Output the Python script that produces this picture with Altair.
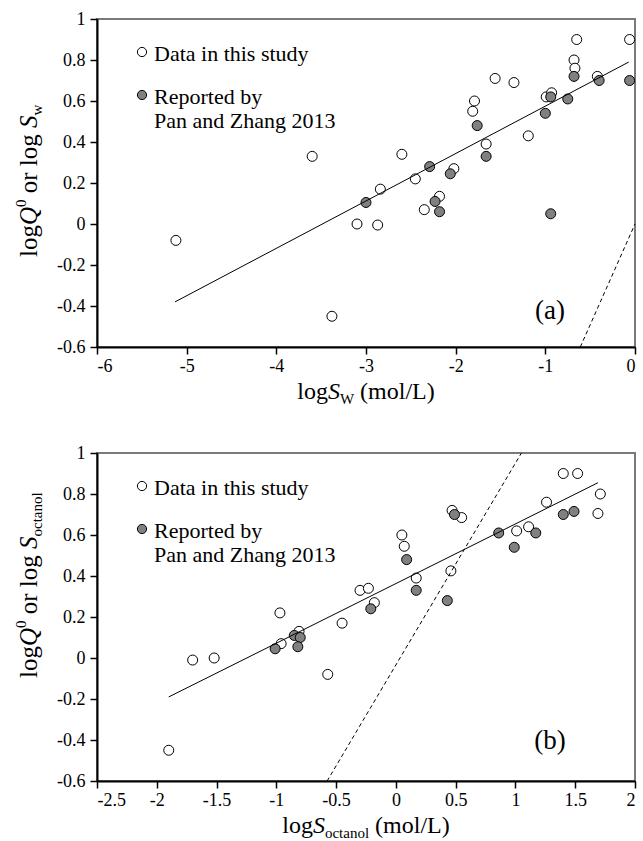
import altair as alt
import pandas as pd

# ---------------- data ----------------
# Panel (a): x = log S_W, y = log Q0
A_OPEN_X = [-5.12, -3.60, -3.38, -3.10, -2.87, -2.84, -2.60, -2.45, -2.35, -2.18, -2.02, -1.81,
            -1.79, -1.66, -1.56, -1.35, -1.19, -0.99, -0.93, -0.68, -0.67, -0.65, -0.42, -0.06]
A_OPEN_Y = [-0.08, 0.33, -0.45, 0.00, -0.005, 0.17, 0.34, 0.22, 0.07, 0.135, 0.27, 0.55,
            0.60, 0.39, 0.71, 0.69, 0.43, 0.62, 0.64, 0.80, 0.76, 0.90, 0.72, 0.90]
A_FILL_X = [-3.00, -2.29, -2.23, -2.18, -2.06, -1.76, -1.66, -1.00, -0.94, -0.94, -0.75, -0.68, -0.40, -0.06]
A_FILL_Y = [0.105, 0.28, 0.11, 0.06, 0.245, 0.48, 0.33, 0.54, 0.62, 0.05, 0.61, 0.72, 0.70, 0.70]
A_FIT_X = [-5.13, -0.07]
A_FIT_Y = [-0.38, 0.79]
A_REF_X = [-0.61, 0.0]
A_REF_Y = [-0.60, 0.0]

# Panel (b): x = log S_octanol, y = log Q0
B_OPEN_X = [-1.90, -1.70, -1.52, -0.97, -0.96, -0.81, -0.57, -0.45, -0.30, -0.23, -0.18, 0.05,
            0.07, 0.17, 0.46, 0.47, 0.55, 1.01, 1.11, 1.26, 1.40, 1.52, 1.69, 1.71]
B_OPEN_Y = [-0.45, -0.01, 0.00, 0.22, 0.07, 0.13, -0.08, 0.17, 0.33, 0.34, 0.27, 0.60,
            0.545, 0.39, 0.425, 0.72, 0.685, 0.62, 0.64, 0.76, 0.90, 0.90, 0.705, 0.80]
B_FILL_X = [-1.01, -0.85, -0.80, -0.82, -0.21, 0.09, 0.17, 0.43, 0.49, 0.86, 0.99, 1.17, 1.40, 1.49]
B_FILL_Y = [0.045, 0.11, 0.10, 0.055, 0.24, 0.48, 0.33, 0.28, 0.70, 0.61, 0.54, 0.61, 0.70, 0.715]
B_FIT_X = [-1.90, 1.69]
B_FIT_Y = [-0.19, 0.855]
B_REF_X = [-0.575, 1.05]
B_REF_Y = [-0.60, 1.00]

A_X_TICKS = [-6, -5, -4, -3, -2, -1, 0]
B_X_TICKS = [-2.5, -2, -1.5, -1, -0.5, 0, 0.5, 1, 1.5, 2]
Y_TICKS = [-0.6, -0.4, -0.2, 0, 0.2, 0.4, 0.6, 0.8, 1]

LEGEND_LABELS = ["Data in this study", "Reported by", "Pan and Zhang 2013"]

# ---------------- styling ----------------
SERIF = "Liberation Serif"
W, H = 538, 328
GRAY = "#808080"

W_REG = {' ': 250, '(': 333, ')': 333, '/': 278, '-': 333, '.': 250, '0': 500, 'L': 611,
         'S': 556, 'W': 944, 'Q': 722, 'a': 444, 'c': 444, 'd': 500, 'g': 500, 'l': 278,
         'm': 778, 'n': 500, 'o': 500, 'r': 333, 't': 278, 'w': 722}
W_IT = {'S': 500, 'Q': 722, 'W': 833, 'w': 667}

one = pd.DataFrame({"k": [0]})


def text_width(t, size, style):
    tbl = W_IT if style == "italic" else W_REG
    return sum(tbl.get(c, W_REG.get(c, 500)) for c in t) * size / 1000.0


def rich(pieces, x, y, angle=0, center=False):
    widths = [text_width(t, s, st) for t, s, st, _ in pieces]
    off = -sum(widths) / 2 if center else 0
    layers = []
    for (t, s, st, shift), w in zip(pieces, widths):
        lead = text_width(t[: len(t) - len(t.lstrip())], s, "normal")
        props = dict(text=t.strip(), align="left", baseline="alphabetic", dx=off + lead,
                     dy=shift, font=SERIF, fontSize=s, fontStyle=st, color="black")
        if angle:
            props["angle"] = angle
        layers.append(alt.Chart(one).mark_text(**props).encode(x=alt.value(x), y=alt.value(y)))
        off += w
    return layers


def panel(ox, oy, fx, fy, fitx, fity, refx, refy, xticks, xdom, xsub, ysub, tag, ystart, tagy):
    xs = alt.Scale(domain=xdom, nice=False, zero=False)
    ys = alt.Scale(domain=[-0.6, 1], nice=False, zero=False)
    xax = alt.Axis(values=xticks, title=None, labelExpr="'' + datum.value", grid=False,
                   tickSize=7, labelPadding=3)
    yax = alt.Axis(values=Y_TICKS, title=None, labelExpr="'' + datum.value", grid=False,
                   tickSize=7, labelPadding=5)

    open_df = pd.DataFrame({"x": ox, "y": oy})
    fill_df = pd.DataFrame({"x": fx, "y": fy})
    fit_df = pd.DataFrame({"x": fitx, "y": fity})
    ref_df = pd.DataFrame({"x": refx, "y": refy})

    base_enc = dict(x=alt.X("x:Q", scale=xs, axis=xax), y=alt.Y("y:Q", scale=ys, axis=yax))

    open_pts = alt.Chart(open_df).mark_point(shape="circle", filled=True, fill="white",
                                             stroke="black", strokeWidth=1, size=100,
                                             opacity=1).encode(**base_enc)
    fill_pts = alt.Chart(fill_df).mark_point(shape="circle", filled=True, fill=GRAY,
                                             stroke="black", strokeWidth=1, size=100,
                                             opacity=1).encode(x="x:Q", y="y:Q")
    fit = alt.Chart(fit_df).mark_line(color="black", strokeWidth=1).encode(x="x:Q", y="y:Q")
    ref = alt.Chart(ref_df).mark_line(color="black", strokeWidth=1,
                                      strokeDash=[4, 3]).encode(x="x:Q", y="y:Q")

    # legend
    leg = [
        alt.Chart(one).mark_point(shape="circle", filled=True, fill="white", stroke="black",
                                  strokeWidth=1, size=85, opacity=1)
        .encode(x=alt.value(45), y=alt.value(33)),
        alt.Chart(one).mark_point(shape="circle", filled=True, fill=GRAY, stroke="black",
                                  strokeWidth=1, size=85, opacity=1)
        .encode(x=alt.value(45), y=alt.value(76)),
    ]
    for lab, yy in zip(LEGEND_LABELS, [42, 84.5, 109]):
        leg.append(alt.Chart(one).mark_text(text=lab, align="left", baseline="alphabetic",
                                            font=SERIF, fontSize=22, color="black")
                   .encode(x=alt.value(57), y=alt.value(yy)))

    tag_t = alt.Chart(one).mark_text(text=tag, align="center", baseline="alphabetic",
                                     font=SERIF, fontSize=27, color="black").encode(
        x=alt.value(453), y=alt.value(tagy))

    xtitle = rich([("log", 24, "normal", 0), ("S", 24, "italic", 0), (xsub, 15, "normal", 5),
                   (" (mol/L)", 24, "normal", 0)], W / 2, 380, center=True)
    ytitle = rich([("log", 25, "normal", 0), ("Q", 25, "italic", 0), ("0", 15, "normal", -11),
                   (" or log ", 25, "normal", 0), ("S", 25, "italic", 0), (ysub, 15, "normal", 5)],
                  -60, ystart, angle=270)

    return alt.layer(open_pts, fill_pts, fit, ref, *leg, tag_t, *xtitle, *ytitle).properties(
        width=W, height=H)


top = panel(A_OPEN_X, A_OPEN_Y, A_FILL_X, A_FILL_Y, A_FIT_X, A_FIT_Y, A_REF_X, A_REF_Y,
            A_X_TICKS, [-6, 0], "W", "w", "(a)", 238, 300)
bottom = panel(B_OPEN_X, B_OPEN_Y, B_FILL_X, B_FILL_Y, B_FIT_X, B_FIT_Y, B_REF_X, B_REF_Y,
               B_X_TICKS, [-2.5, 2], "octanol", "octanol", "(b)", 225, 296)

chart = alt.vconcat(top, bottom, spacing=35).configure(
    padding={"left": 13, "top": 9, "right": 5, "bottom": 5}, background="white"
).configure_view(stroke="#7a7a7a", strokeWidth=2).configure_axis(
    domainColor="black", domainWidth=2, tickColor="black", tickWidth=1.5,
    labelFont=SERIF, labelFontSize=18, labelColor="black"
)

chart.save("out.html", embed_options={"renderer": "svg", "actions": False})
